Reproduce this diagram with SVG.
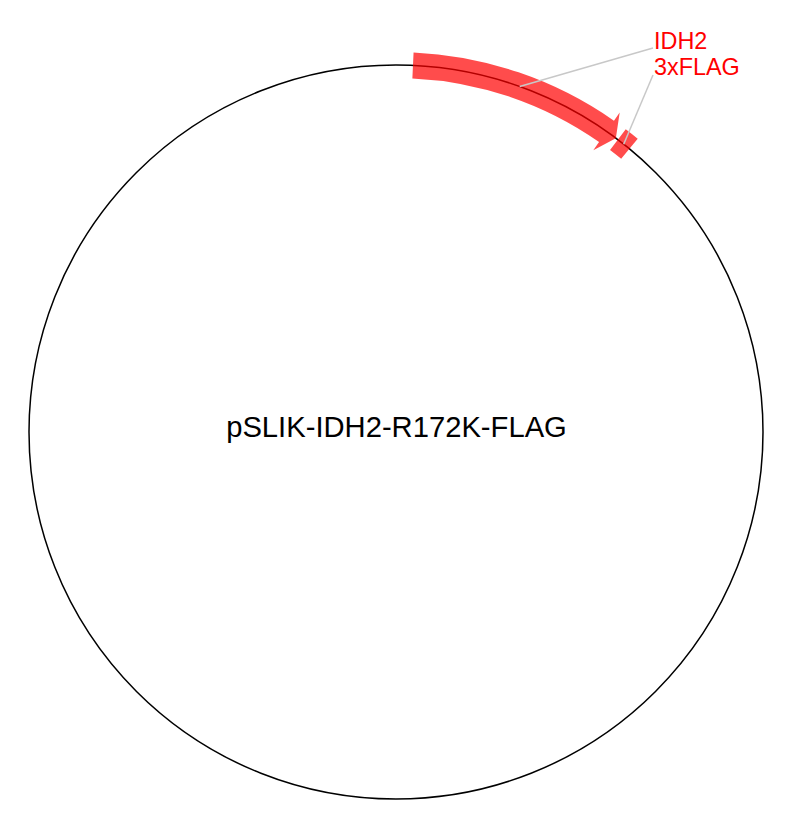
<svg xmlns="http://www.w3.org/2000/svg" width="806" height="836" viewBox="0 0 806 836">
<style>
.bb{fill:none;stroke:#000;stroke-width:1.5}
.feat{fill:#ff0000;fill-opacity:0.7;stroke:none}
.lead{stroke:#c8c8c8;stroke-width:1.5;fill:none}
.lbl{font-family:"Liberation Sans",Arial,sans-serif;font-size:23.4px;fill:#ff0000}
.title{font-family:"Liberation Sans",Arial,sans-serif;font-size:29.2px;fill:#000;text-anchor:middle}
</style>
<rect width="806" height="836" fill="#fff"/>
<g id="backbone">
<circle class="bb" cx="396" cy="432" r="367"/>
</g>
<g id="IDH2">
<path class="feat" d="M 413.57 52.41 A 380 380 0 0 1 613.96 120.72 L 619.70 112.53 L 615.84 138.13 L 593.31 150.21 L 599.05 142.02 A 354 354 0 0 0 412.37 78.38 Z"/>
<text class="lbl" x="654" y="49">IDH2</text>
</g>
<g id="FLAG">
<path class="feat" d="M 625.75 129.32 A 380 380 0 0 1 637.71 138.78 L 621.17 158.85 A 354 354 0 0 0 610.03 150.03 Z"/>
<text class="lbl" x="654" y="75">3xFLAG</text>
</g>
<g id="connectors">
<line class="lead" x1="519.7" y1="86.5" x2="653" y2="48"/>
<line class="lead" x1="623.7" y1="144.2" x2="653" y2="75"/>
</g>
<g id="title">
<text class="title" x="396.5" y="437">pSLIK-IDH2-R172K-FLAG</text>
</g>
</svg>
